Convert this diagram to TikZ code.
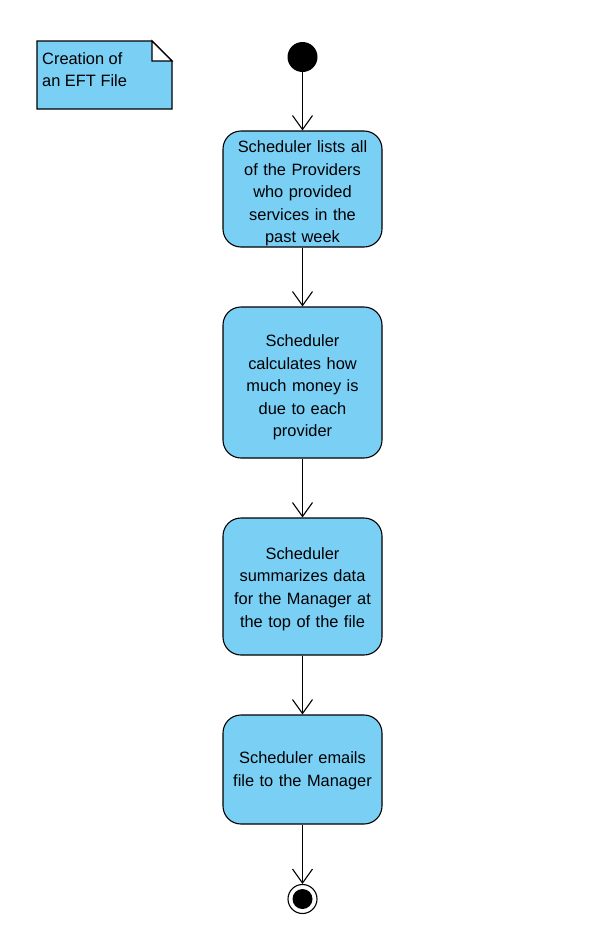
\documentclass[tikz,border=0pt]{standalone}
\usepackage{fontspec}
\setmainfont{Liberation Sans}
\usetikzlibrary{arrows.meta}
\definecolor{actfill}{RGB}{122,207,245}
\begin{document}
\begin{tikzpicture}[x=1pt,y=-1pt,
  action/.style={draw=black, line width=1.1pt, fill=actfill, rounded corners=18pt,
    minimum width=159pt, inner sep=0pt},
  actiontext/.style={text width=158pt, align=center, inner sep=0pt,
    font=\fontsize{16.4}{22.6}\selectfont},
  flow/.style={draw=black, line width=1.1pt, -{Straight Barb[length=14pt,width=20pt,line width=1.1pt]}},
  initial/.style={circle, fill=black, minimum size=30pt, inner sep=0pt},
]
\useasboundingbox (0,0) rectangle (591,929);
\fill[white] (0,0) rectangle (591,929);

% note with folded corner
\draw[line width=1.1pt, fill=actfill] (37,41) -- (152,41) -- (172,61) -- (172,109) -- (37,109) -- cycle;
\draw[line width=1.1pt, fill=white] (152,41) -- (152,61) -- (172,61) -- cycle;
\node[anchor=north west, align=left, inner sep=0pt, font=\fontsize{16.4}{22.6}\selectfont]
  (note) at (42,52) {Creation of\\an EFT File};

% initial node
\node[initial] (start) at (302.5,57) {};

% action states
\node[action, minimum height=116pt] (a1) at (302.5,189) {};
\node[action, minimum height=151pt] (a2) at (302.5,382.5) {};
\node[action, minimum height=137pt] (a3) at (302.5,586.5) {};
\node[action, minimum height=109pt] (a4) at (302.5,769.5) {};

% action labels
\node[actiontext] (t1) at ([yshift=-4.5pt]a1.center)
  {Scheduler lists all\\of the Providers\\who provided\\services in the\\past week};
\node[actiontext] (t2) at ([yshift=-5pt]a2.center)
  {Scheduler\\calculates how\\much money is\\due to each\\provider};
\node[actiontext] (t3) at ([yshift=-2.5pt]a3.center)
  {Scheduler\\summarizes data\\for the Manager at\\the top of the file};
\node[actiontext] (t4) at ([yshift=-1pt]a4.center)
  {Scheduler emails\\file to the Manager};

% final node
\node[circle, draw=black, line width=1.1pt, fill=white, minimum size=29pt, inner sep=0pt] (stop) at (302.5,899) {};
\fill[black] (stop.center) circle (10pt);

% control flow
\draw[flow] (start) -- (a1);
\draw[flow] (a1) -- (a2);
\draw[flow] (a2) -- (a3);
\draw[flow] (a3) -- (a4);
\draw[flow] (a4) -- (stop);
\end{tikzpicture}
\end{document}
